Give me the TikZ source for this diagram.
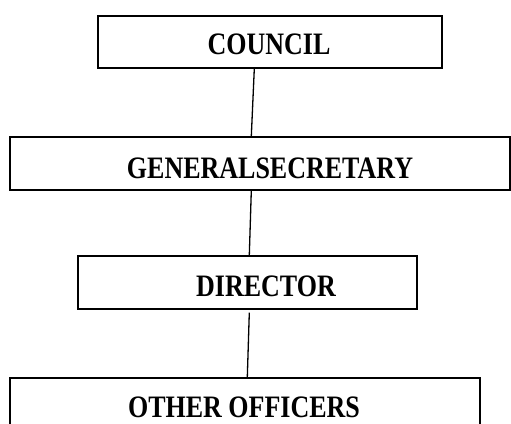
\documentclass[tikz,border=0pt]{standalone}
\usepackage{fontspec}
\setmainfont{Liberation Serif}
\begin{document}
\begin{tikzpicture}[x=1pt,y=1pt,
  box/.style={draw=black,line width=1.4pt,minimum height=53pt,inner sep=0pt,fill=white},
  lbl/.style={font=\fontsize{26}{30}\selectfont\bfseries,inner sep=0pt},
  link/.style={draw=black,line width=1.3pt}]
\useasboundingbox (0,0) rectangle (511,423);
\clip (0,0) rectangle (511,423);
\node[box,minimum width=344pt,minimum height=52pt] (council) at (270,381) {};
\node[box,minimum width=500pt] (gs) at (260,259.5) {};
\node[box,minimum width=339pt] (dir) at (247.5,140.5) {};
\node[box,minimum width=470pt,minimum height=52pt] (oo) at (245,19) {};
\node[lbl] (tc) at (269,379) {\scalebox{1}[1.2]{COUNCIL}};
\node[lbl] (tg) at (270,255) {\scalebox{1}[1.2]{GENERALSECRETARY}};
\node[lbl] (td) at (266,137) {\scalebox{1}[1.2]{DIRECTOR}};
\node[lbl] (to) at (244,16) {\scalebox{1}[1.2]{OTHER OFFICERS}};
\draw[link] ([xshift=157pt]council.south west) -- ([xshift=242pt]gs.north west);
\draw[link] ([xshift=242pt]gs.south west) -- ([xshift=172pt]dir.north west);
\draw[link] ([xshift=172pt,yshift=-3pt]dir.south west) -- ([xshift=238pt]oo.north west);
\end{tikzpicture}
\end{document}
